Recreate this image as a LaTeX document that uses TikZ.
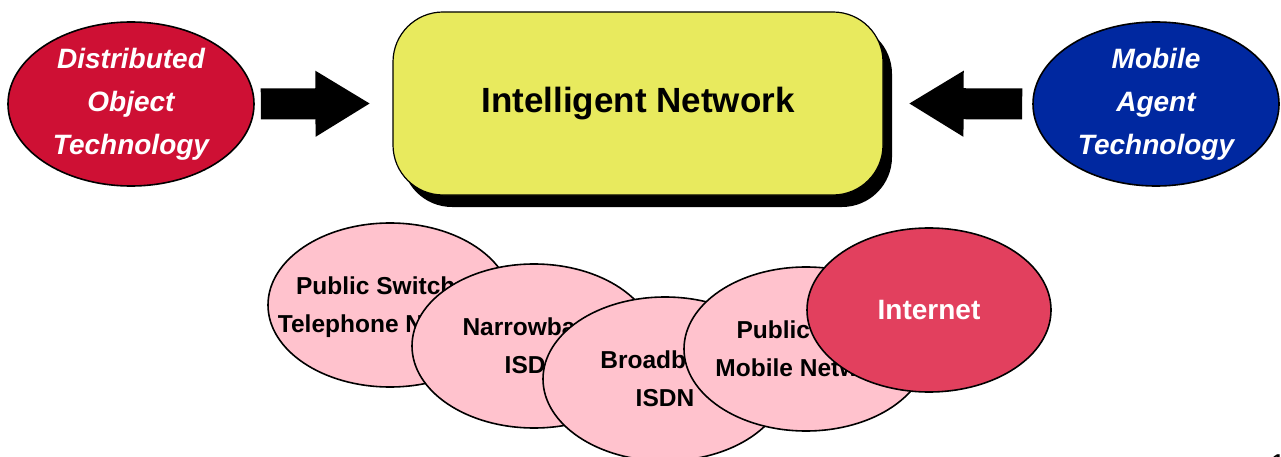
\documentclass[tikz,border=0pt]{standalone}
\usepackage{fontspec}
\setmainfont{Liberation Sans}
\usetikzlibrary{shapes.geometric,arrows.meta,shadows}
\definecolor{dotred}{RGB}{206,16,52}
\definecolor{matblue}{RGB}{0,40,160}
\definecolor{inyellow}{RGB}{232,234,94}
\definecolor{netpink}{RGB}{255,194,205}
\definecolor{inetred}{RGB}{226,64,94}
\tikzset{
  techell/.style={ellipse, draw=black, line width=1.6pt, minimum width=246pt, minimum height=164pt, inner sep=0pt, align=center, text=white, font=\bfseries\itshape\fontsize{28}{43}\selectfont},
  netell/.style={ellipse, draw=black, line width=1.6pt, fill=netpink, minimum width=244pt, minimum height=164pt, inner sep=0pt},
  nettext/.style={inner sep=0pt, align=center, text=black, font=\bfseries\fontsize{24.5}{38}\selectfont},
  inbox/.style={draw=black, line width=1.2pt, fill=inyellow, rounded corners=50pt, minimum width=490pt, minimum height=183pt, inner sep=0pt, font=\bfseries\fontsize{35}{40}\selectfont,
    drop shadow={shadow xshift=9pt, shadow yshift=-12pt, fill=black, opacity=1}},
  fatarrow/.style={draw=black, line width=31pt, -{Triangle[length=55pt, width=62pt]}}
}
\begin{document}
\begin{tikzpicture}[x=1pt,y=-1pt]
\useasboundingbox (0,0) rectangle (1281,457);
\fill[white] (0,0) rectangle (1281,457);
% top row
\node[techell, fill=dotred] (dot) at (131,104) {Distributed\\Object\\Technology};
\node[techell, fill=matblue] (mat) at (1156,104) {Mobile\\Agent\\Technology};
\node[inbox] (in) at (638,103.5) {Intelligent Network};
\draw[fatarrow] ([xshift=6pt]dot.east) -- ([xshift=-22pt]in.west);
\draw[fatarrow] ([xshift=-10pt]mat.west) -- ([xshift=25pt]in.east);
% bottom networks (each ellipse, then its text, then the next one on top)
\node[netell] (pstn) at (390,305) {};
\node[nettext] (pstnT) at ([yshift=-2pt]pstn.center) {Public Switched\\Telephone Network};
\node[netell] (nisdn) at (534,346) {};
\node[nettext] (nisdnT) at (nisdn.center) {Narrowband\\ISDN};
\node[netell] (bisdn) at (665,379) {};
\node[nettext] (bisdnT) at (bisdn.center) {Broadband\\ISDN};
\node[netell] (plmn) at (806,349) {};
\node[nettext] (plmnT) at (plmn.center) {Public Land\\Mobile Network};
\node[netell, fill=inetred] (inet) at (929,310) {};
\node[nettext, text=white, font=\bfseries\fontsize{28}{34}\selectfont] (inetT) at (inet.center) {Internet};
% page number, mostly cut off
\node[anchor=north, inner sep=0pt, font=\bfseries\fontsize{20}{20}\selectfont] (pg) at (1278,454.5) {1};
\end{tikzpicture}
\end{document}
